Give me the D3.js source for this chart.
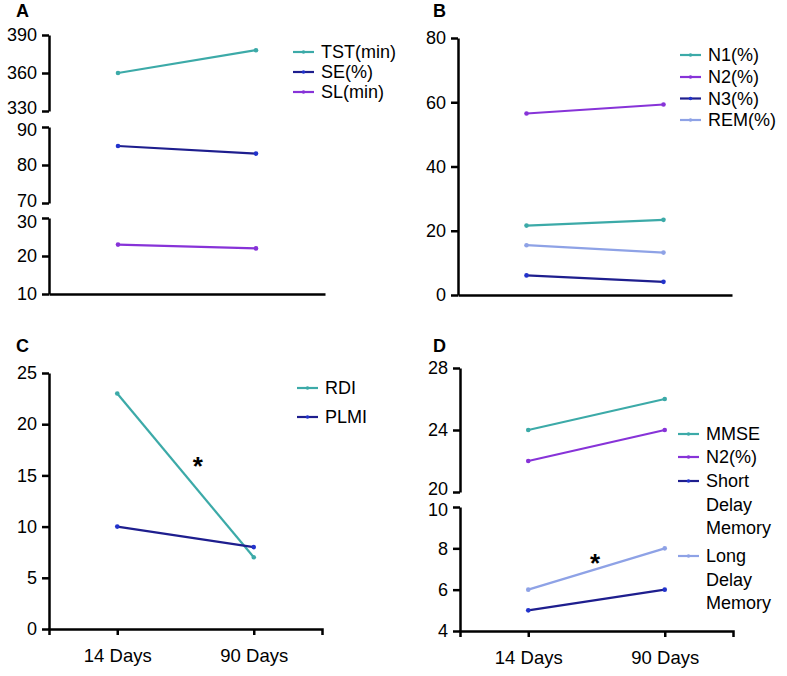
<!DOCTYPE html>
<html>
<head>
<meta charset="utf-8">
<script src="https://cdn.jsdelivr.net/npm/d3@7"></script>
<style>
  body { margin: 0; background: #fff; }
  svg { font-family: "Liberation Sans", Arial, sans-serif; }
  .axis path, .axis line { stroke: #000; stroke-width: 2.5px; }
  .axis text { font-size: 18px; fill: #000; }
  .legend text { font-size: 18px; }
</style>
</head>
<body>
<svg id="chart" width="787" height="676"></svg>
<script>
var days = ["14 Days", "90 Days"];

// panel A
var tst = [360, 378], se = [85, 83], sl = [23, 22];
// panel B
var n1 = [21.6, 23.4], n2 = [56.5, 59.3], n3 = [6.1, 4.1], rem = [15.5, 13.2];
// panel C
var rdi = [23, 7], plmi = [10, 8];
// panel D
var mmse = [24, 26], n2d = [22, 24], shortMem = [5, 6], longMem = [6, 8];

var teal = "#3caaa8", navy = "#1e1e8e", purple = "#8733d8", light = "#8ea2e6";
var navyDot = "#2233cc";

var svg = d3.select("#chart");

function xScale(x0, x1) {
    return d3.scalePoint().domain(days).range([x0, x1]).padding(0.5);
}

// draws one (possibly broken) y axis segment; nudge moves the end labels apart at a break
function yAxis(g, x, scale, ticks, nudgeTop, nudgeBottom) {
    var a = g.append("g")
        .attr("class", "axis")
        .attr("transform", "translate(" + x + ",0)")
        .call(d3.axisLeft(scale).tickValues(ticks).tickFormat(d3.format("d"))
            .tickSize(7).tickSizeOuter(0).tickPadding(5));
    var lo = d3.min(ticks), hi = d3.max(ticks);
    a.selectAll(".tick text").attr("y", function(d) {
        if (d === hi && nudgeTop) return nudgeTop;
        if (d === lo && nudgeBottom) return nudgeBottom;
        return 0;
    });
}

function xAxis(g, x, y, withLabels) {
    var ax = d3.axisBottom(x).tickSizeOuter(0).tickPadding(14);
    if (withLabels) ax.tickSize(6); else ax.tickSize(0).tickFormat("");
    var a = g.append("g").attr("class", "axis")
        .attr("transform", "translate(0," + y + ")")
        .call(ax);
    a.selectAll("text").style("font-size", "18.5px");
}

function series(g, x, y, vals, color, dot) {
    var pts = days.map(function(d, i) { return [x(d), y(vals[i])]; });
    g.append("path")
        .attr("d", d3.line()(pts))
        .attr("fill", "none")
        .attr("stroke", color)
        .attr("stroke-width", 2.2);
    g.selectAll(null).data(pts).enter().append("circle")
        .attr("cx", function(p) { return p[0]; })
        .attr("cy", function(p) { return p[1]; })
        .attr("r", 2.3)
        .attr("fill", dot || color);
}

function legend(g, x, rows) {
    var lg = g.append("g").attr("class", "legend");
    rows.forEach(function(r) {
        lg.append("line")
            .attr("x1", x).attr("x2", x + 21)
            .attr("y1", r.y).attr("y2", r.y)
            .attr("stroke", r.color).attr("stroke-width", 2.2);
        lg.append("circle").attr("cx", x + 10.5).attr("cy", r.y).attr("r", 1.8).attr("fill", r.dot || r.color);
        r.text.forEach(function(t, i) {
            lg.append("text")
                .attr("x", x + 28)
                .attr("y", r.y + i * 23.5)
                .attr("dy", "0.35em")
                .text(t);
        });
    });
}

function panelLabel(x, y, t) {
    svg.append("text")
        .attr("x", x).attr("y", y)
        .attr("font-weight", "bold")
        .attr("font-size", "18px")
        .text(t);
}

function star(x, y) {
    svg.append("text")
        .attr("x", x).attr("y", y)
        .attr("text-anchor", "middle")
        .attr("dy", "0.55em")
        .attr("font-weight", "bold")
        .attr("font-size", "26px")
        .text("*");
}

// ---------- A ----------
var gA = svg.append("g");
var xA = xScale(49, 325);
var yA1 = d3.scaleLinear().domain([330, 390]).range([111, 35]);
var yA2 = d3.scaleLinear().domain([70, 90]).range([203, 127]);
var yA3 = d3.scaleLinear().domain([10, 30]).range([294, 218]);
yAxis(gA, 49, yA1, [330, 360, 390], 0, -3);
yAxis(gA, 49, yA2, [70, 80, 90], 3, -2);
yAxis(gA, 49, yA3, [10, 20, 30], 4, 0);
xAxis(gA, xA, 294, false);
series(gA, xA, yA1, tst, teal);
series(gA, xA, yA2, se, navy, navyDot);
series(gA, xA, yA3, sl, purple);
legend(gA, 293, [
    { y: 52, color: teal, text: ["TST(min)"] },
    { y: 72, color: navy, dot: navyDot, text: ["SE(%)"] },
    { y: 92, color: purple, text: ["SL(min)"] }
]);
panelLabel(16, 17, "A");

// ---------- B ----------
var gB = svg.append("g");
var xB = xScale(458, 732);
var yB = d3.scaleLinear().domain([0, 80]).range([295, 38]);
yAxis(gB, 458, yB, [0, 20, 40, 60, 80]);
xAxis(gB, xB, 295, false);
series(gB, xB, yB, n2, purple);
series(gB, xB, yB, n1, teal);
series(gB, xB, yB, rem, light);
series(gB, xB, yB, n3, navy, navyDot);
legend(gB, 680, [
    { y: 55, color: teal, text: ["N1(%)"] },
    { y: 77, color: purple, text: ["N2(%)"] },
    { y: 98.5, color: navy, dot: navyDot, text: ["N3(%)"] },
    { y: 120, color: light, text: ["REM(%)"] }
]);
panelLabel(433, 17, "B");

// ---------- C ----------
var gC = svg.append("g");
var xC = xScale(49, 322);
var yC = d3.scaleLinear().domain([0, 25]).range([629, 373]);
yAxis(gC, 49, yC, [0, 5, 10, 15, 20, 25]);
xAxis(gC, xC, 629, true);
series(gC, xC, yC, rdi, teal);
series(gC, xC, yC, plmi, navy, navyDot);
legend(gC, 297, [
    { y: 388, color: teal, text: ["RDI"] },
    { y: 417, color: navy, dot: navyDot, text: ["PLMI"] }
]);
panelLabel(16, 352, "C");
star(xC(days[0]) + 0.59 * (xC(days[1]) - xC(days[0])), yC(16.4));

// ---------- D ----------
var gD = svg.append("g");
var xD = xScale(460, 733);
var yD1 = d3.scaleLinear().domain([20, 28]).range([492, 368]);
var yD2 = d3.scaleLinear().domain([4, 10]).range([631, 507]);
yAxis(gD, 460, yD1, [20, 24, 28], 0, -3);
yAxis(gD, 460, yD2, [4, 6, 8, 10], 3, 0);
xAxis(gD, xD, 631, true);
series(gD, xD, yD1, mmse, teal);
series(gD, xD, yD1, n2d, purple);
series(gD, xD, yD2, longMem, light);
series(gD, xD, yD2, shortMem, navy, navyDot);
legend(gD, 678, [
    { y: 434, color: teal, text: ["MMSE"] },
    { y: 457, color: purple, text: ["N2(%)"] },
    { y: 481, color: navy, dot: navyDot, text: ["Short", "Delay", "Memory"] },
    { y: 556, color: light, text: ["Long", "Delay", "Memory"] }
]);
panelLabel(433, 352, "D");
star(xD(days[0]) + 0.49 * (xD(days[1]) - xD(days[0])), yD2(7.55));
</script>
</body>
</html>
